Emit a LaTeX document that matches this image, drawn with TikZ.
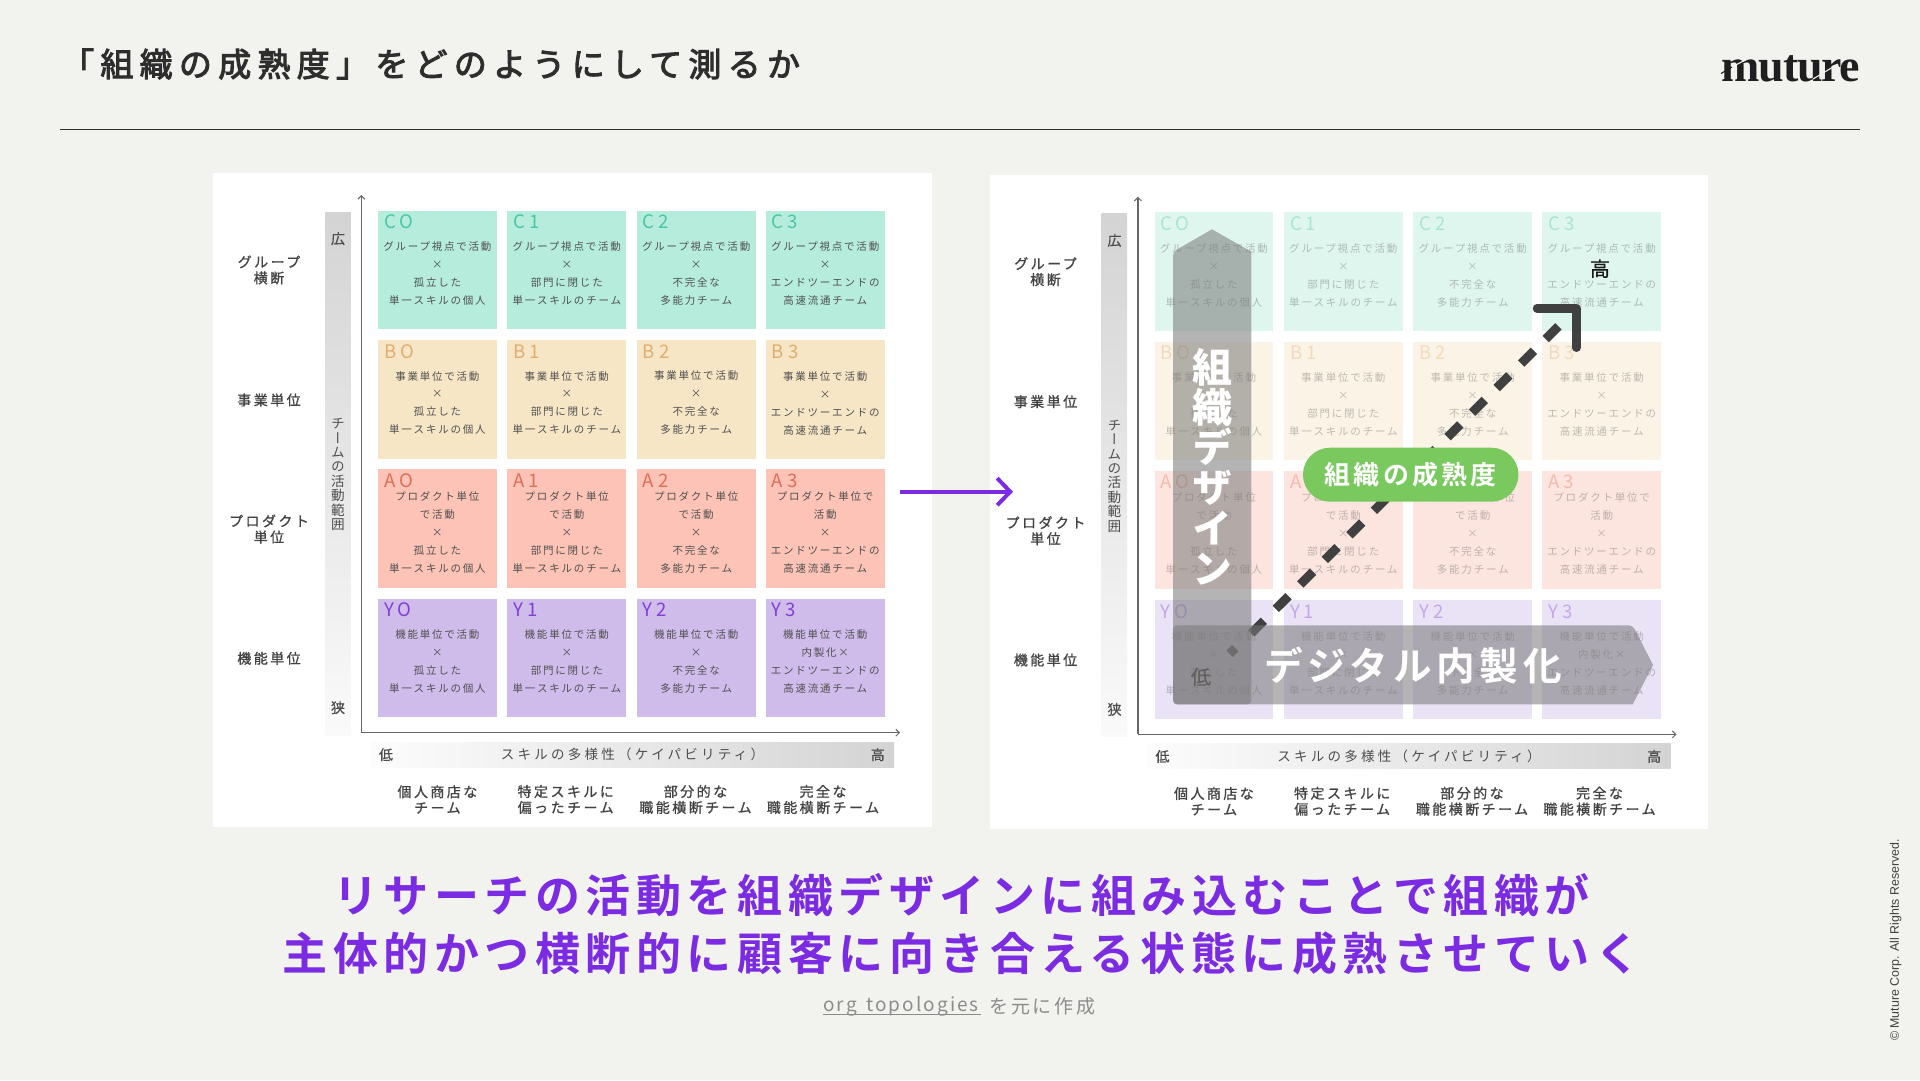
\documentclass[tikz,border=0pt]{standalone}
\usepackage{fontspec}
\usetikzlibrary{arrows.meta,calc}
\newfontfamily\fcell[LetterSpace=17]{Noto Sans CJK JP}
\newfontfamily\fhead[LetterSpace=17.5,FakeBold=0.9]{Noto Sans CJK JP}
\newfontfamily\faxis[LetterSpace=24]{Noto Sans CJK JP}
\newfontfamily\fid[LetterSpace=21]{Noto Sans CJK JP}
\newfontfamily\ftitle[LetterSpace=19,FakeBold=3]{Noto Sans CJK JP}
\newfontfamily\fmsg[LetterSpace=12.3,BoldFont={Noto Sans CJK JP Bold}]{Noto Sans CJK JP}
\newfontfamily\fsrc[LetterSpace=11]{Noto Sans CJK JP}
\newfontfamily\fsrcb[LetterSpace=15]{Noto Sans CJK JP}
\newfontfamily\fplain[FakeBold=0.7]{Noto Sans CJK JP}
\newfontfamily\fvert[RawFeature={+vert}]{Noto Sans CJK JP}
\newfontfamily\fcopy{Liberation Sans}
\newfontfamily\flogo[LetterSpace=-3]{Liberation Serif}
\definecolor{bgc}{HTML}{F2F2EE}
\definecolor{ink}{HTML}{2E2E2E}
\definecolor{purp}{HTML}{7B2BE2}
\definecolor{cfill}{HTML}{B5ECDC}\definecolor{cid}{HTML}{4AC5A5}
\definecolor{bfill}{HTML}{F6E6C6}\definecolor{bid}{HTML}{DFAE6E}
\definecolor{afill}{HTML}{FCC3B6}\definecolor{aid}{HTML}{DD6E58}
\definecolor{yfill}{HTML}{CFBCEA}\definecolor{yid}{HTML}{8040D4}
\definecolor{celltxt}{HTML}{505050}
\definecolor{pill}{HTML}{7AC95F}
\tikzset{
  x=1pt,y=-1pt,
  panelbox/.style={fill=white,draw=none,minimum width=718.5pt,minimum height=654pt,inner sep=0pt},
  cellbox/.style={draw=none,minimum width=118.7pt,minimum height=118.3pt,inner sep=0pt},
  celltext/.style={inner sep=0pt,align=center,text=celltxt,font=\fcell\fontsize{10.5}{18}\selectfont},
  idtext/.style={inner sep=0pt,anchor=west,font=\fid\fontsize{18.6}{18}\selectfont},
  headtext/.style={inner sep=0pt,align=center,text=ink!90,font=\fhead\fontsize{14}{16}\selectfont},
  axistext/.style={inner sep=0pt,text=ink!85,font=\faxis\fontsize{13.5}{16}\selectfont},
  endtext/.style={inner sep=0pt,text=ink!85,font=\fplain\fontsize{14}{16}\selectfont},
  axisline/.style={draw=black!60,line width=1.2pt,-{Straight Barb[length=3.5pt,width=7pt,line width=1pt]}},
  ovl/.style={fill=black!53,fill opacity=0.55,draw=none},
  msgtext/.style={inner sep=0pt,text=purp,font=\fmsg\bfseries\fontsize{45}{50}\selectfont},
  ripe/.style={draw=black!75,line width=8.5pt},
}
% one grid cell: prefix, col centre x, row top y, fill, id colour, id, row key, text
\newcommand{\gridcell}[8]{%
  \node[cellbox,fill=#4,opacity=\cellop] (#1#6) at (#2,#3+59.15) {};
  \node[idtext,text=#5,opacity=\idop] (#1#6id) at (#2-53.5,#3+11) {#6};
  \node[celltext,opacity=\txtop] (#1#6txt) at (#2,#3+62.7) {#8};
}
\newcommand{\rowcells}[9]{%
  \gridcell{#1}{437.4}{#2}{#3}{#4}{#5O}{}{#6}%
  \gridcell{#1}{566.8}{#2}{#3}{#4}{#51}{}{#7}%
  \gridcell{#1}{696.2}{#2}{#3}{#4}{#52}{}{#8}%
  \gridcell{#1}{825.2}{#2}{#3}{#4}{#53}{}{#9}%
}
\newcommand{\panel}[4]{%
  \def\cellop{#2}\def\txtop{#3}\def\idop{#4}%
  \node[panelbox] (#1panel) at (572.25,500) {};
  \shade[top color=black!17,bottom color=black!2,draw=none] (325,212) rectangle (350.7,735);
  \shade[left color=black!1,right color=black!17,draw=none] (371,742) rectangle (894,767);
  \coordinate (#1org) at (361.4,732.7);
  \coordinate (#1ytop) at (361.4,195);
  \coordinate (#1xend) at (900,732.7);
  \draw[axisline] (#1org) -- (#1ytop);
  \draw[axisline] (#1org) -- (#1xend);
  \rowcells{#1}{210.7}{cfill}{cid}{C}%
    {グループ視点で活動\\×\\孤立した\\単一スキルの個人}%
    {グループ視点で活動\\×\\部門に閉じた\\単一スキルのチーム}%
    {グループ視点で活動\\×\\不完全な\\多能力チーム}%
    {グループ視点で活動\\×\\エンドツーエンドの\\高速流通チーム}
  \rowcells{#1}{340.3}{bfill}{bid}{B}%
    {事業単位で活動\\×\\孤立した\\単一スキルの個人}%
    {事業単位で活動\\×\\部門に閉じた\\単一スキルのチーム}%
    {事業単位で活動\\×\\不完全な\\多能力チーム}%
    {事業単位で活動\\×\\エンドツーエンドの\\高速流通チーム}
  \rowcells{#1}{469.3}{afill}{aid}{A}%
    {プロダクト単位\\で活動\\×\\孤立した\\単一スキルの個人}%
    {プロダクト単位\\で活動\\×\\部門に閉じた\\単一スキルのチーム}%
    {プロダクト単位\\で活動\\×\\不完全な\\多能力チーム}%
    {プロダクト単位で\\活動\\×\\エンドツーエンドの\\高速流通チーム}
  \rowcells{#1}{598.7}{yfill}{yid}{Y}%
    {機能単位で活動\\×\\孤立した\\単一スキルの個人}%
    {機能単位で活動\\×\\部門に閉じた\\単一スキルのチーム}%
    {機能単位で活動\\×\\不完全な\\多能力チーム}%
    {機能単位で活動\\内製化×\\エンドツーエンドの\\高速流通チーム}
  \node[headtext] (#1r3) at (269,270) {グループ\\横断};
  \node[headtext] (#1r2) at (269,400) {事業単位};
  \node[headtext] (#1r1) at (269,529) {プロダクト\\単位};
  \node[headtext] (#1r0) at (269,658.3) {機能単位};
  \node[endtext] (#1wide) at (338,238.7) {広};
  \node[endtext] (#1narrow) at (338,707.7) {狭};
  \node[inner sep=0pt,align=center,text=ink!85,font=\fvert\fontsize{13.6}{14.4}\selectfont] (#1ylab) at (338,474.5)
     {チ\\ー\\ム\\の\\活\\動\\範\\囲};
  \node[endtext] (#1low) at (386,754.7) {低};
  \node[endtext] (#1high) at (877.7,754.7) {高};
  \node[axistext] (#1xlab) at (632.5,754.7) {スキルの多様性（ケイパビリティ）};
  \node[headtext] (#1c0) at (437.4,799.5) {個人商店な\\チーム};
  \node[headtext] (#1c1) at (565.7,799.5) {特定スキルに\\偏ったチーム};
  \node[headtext] (#1c2) at (695.5,799.5) {部分的な\\職能横断チーム};
  \node[headtext] (#1c3) at (823,799.5) {完全な\\職能横断チーム};
}
\begin{document}
\begin{tikzpicture}
\useasboundingbox (0,0) rectangle (1920,1080);
\fill[bgc] (0,0) rectangle (1920,1080);
% header
\node[inner sep=0pt,anchor=west,text=ink,font=\ftitle\fontsize{33}{36}\selectfont] (title) at (61,64) {「組織の成熟度」をどのようにして測るか};
\coordinate (ruleL) at (60,129.3);
\coordinate (ruleR) at (1860,129.3);
\draw[ink,line width=1.2pt] (ruleL) -- (ruleR);
\node[inner sep=0pt,anchor=base east,text=black!88,font=\flogo\bfseries\fontsize{46}{46}\selectfont] (logo) at (1860,81) {muture};
\coordinate (swA) at (1721,73.5);
\coordinate (swB) at (1732,67);
\coordinate (swC) at (1749,58);
\coordinate (swD) at (1813,79);
\coordinate (swE) at (1838,64);
\draw[black!88,line width=1.1pt] (swA) -- (swB);
\draw[bgc,line width=1.1pt] (swB) -- (swC);
\draw[bgc,line width=1.1pt] (swD) -- (swE);
% panels
\panel{L}{1}{1}{1}
\begin{scope}[shift={(776.5,1.7)}]
\panel{R}{0.43}{0.36}{0.36}
\end{scope}
% arrow between panels
\coordinate (flowA) at (900,491.7);
\coordinate (flowB) at (1013,491.7);
\draw[purp,line width=4pt,-{Straight Barb[length=13pt,width=27pt,line width=4pt]}] (flowA) -- (flowB);
% maturity dashes (under overlays)
\coordinate (dashTop) at (1558.4,326.3);
\coordinate (dashEnd) at (1248.6,636);
\coordinate (dotA) at (1229.7,653.8);
\coordinate (dotB) at (1235.3,648.2);
\draw[black!75,line width=9pt,dash pattern=on 18pt off 16.7pt] (dashTop) -- (dashEnd);
\draw[black!75,line width=9pt] (dotA) -- (dotB);
% overlay arrows
\fill[ovl] (1173,251.7) -- (1212,229.3) -- (1251.4,251.7) [rounded corners=4pt] -- (1251.4,704.3) -- (1173,704.3) -- cycle;
\fill[ovl] (1632.7,625.3) -- (1653,665) -- (1632.7,704.3) [rounded corners=4pt] -- (1173,704.3) -- (1173,625.3) -- cycle;
\node[inner sep=0pt,align=center,text=white,font=\fvert\bfseries\fontsize{40}{40.2}\selectfont] (vlab) at (1212,466.5)
   {組\\織\\デ\\ザ\\イ\\ン};
\node[inner sep=0pt,text=white,font=\fmsg\bfseries\fontsize{38.6}{40}\selectfont] (hlab) at (1413,665) {デジタル内製化};
\node[inner sep=0pt,text=black!62,font=\fplain\fontsize{20}{22}\selectfont] (lowmark) at (1201,677) {低};
\node[inner sep=0pt,text=black!90,font=\fplain\fontsize{20}{22}\selectfont] (highmark) at (1600,268.7) {高};
% arrow head of the maturity line
\coordinate (hdA) at (1537,308.3);
\coordinate (hdC) at (1576.5,308.3);
\coordinate (hdB) at (1576.5,347.7);
\draw[ripe,line cap=round,line join=round] (hdA) -- (hdC) -- (hdB);
% pill
\node[fill=pill,rounded corners=27pt,minimum width=215.5pt,minimum height=54pt,inner sep=0pt,text=white,font=\fmsg\bfseries\fontsize{26}{28}\selectfont] (maturity) at (1410.7,474.7) {組織の成熟度};
% message
\node[msgtext] (msg1) at (961.5,895) {リサーチの活動を組織デザインに組み込むことで組織が};
\node[msgtext] (msg2) at (961.5,953) {主体的かつ横断的に顧客に向き合える状態に成熟させていく};
% source
\node[inner sep=0pt,anchor=west,text=black!45,font=\fsrc\fontsize{19}{22}\selectfont] (srcA) at (823,1006) {org\hspace{3pt} topologies};
\node[inner sep=0pt,anchor=west,text=black!45,font=\fsrcb\fontsize{19}{22}\selectfont] (srcB) at (989,1006) {を元に作成};
\coordinate (ulA) at (823,1014.3);
\coordinate (ulB) at (981,1014.3);
\draw[black!45,line width=1pt] (ulA) -- (ulB);
% copyright
\node[inner sep=0pt,rotate=90,text=black!75,font=\fcopy\fontsize{12.4}{14}\selectfont] (copy) at (1895.7,940) {© Muture Corp. All Rights Reserved.};
\end{tikzpicture}
\end{document}
